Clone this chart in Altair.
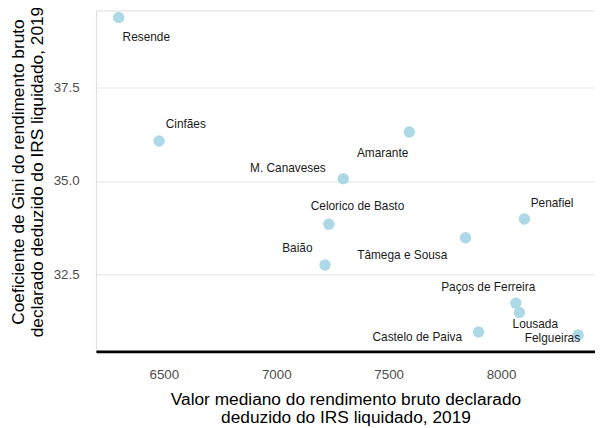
import altair as alt
import pandas as pd

# ---- data ----
names = [
    "Resende", "Cinfães", "Amarante", "M. Canaveses", "Celorico de Basto",
    "Baião", "Tâmega e Sousa", "Penafiel", "Paços de Ferreira", "Lousada",
    "Castelo de Paiva", "Felgueiras",
]
median_income = [6299, 6479, 7592, 7298, 7234, 7217, 7842, 8104, 8066, 8082, 7900, 8343]
gini = [39.37, 36.07, 36.31, 35.06, 33.84, 32.75, 33.48, 33.98, 31.73, 31.48, 30.96, 30.88]

x_ticks = [6500, 7000, 7500, 8000]
y_ticks = [32.5, 35.0, 37.5]

x_title = ["Valor mediano do rendimento bruto declarado", "deduzido do IRS liquidado, 2019"]
y_title = ["Coeficiente de Gini do rendimento bruto", "declarado deduzido do IRS liquidado, 2019"]

# label placement (pixel offsets from each point, style only)
label_offsets = {
    "Resende": (28, 20),
    "Cinfães": (27, -17),
    "Amarante": (-27, 21),
    "M. Canaveses": (-56, -11),
    "Celorico de Basto": (29, -18),
    "Baião": (-28, -17),
    "Tâmega e Sousa": (-64, 18),
    "Penafiel": (28, -16),
    "Paços de Ferreira": (-28, -16),
    "Lousada": (16, 12),
    "Castelo de Paiva": (-62, 5),
    "Felgueiras": (-26, 3),
}

df = pd.DataFrame({"nome": names, "mediana": median_income, "gini": gini})

FONT = "Liberation Sans"

x_scale = alt.Scale(domain=[6198, 8418], nice=False, zero=False)
y_scale = alt.Scale(domain=[30.44, 39.56], nice=False, zero=False)

x_enc = alt.X(
    "mediana:Q",
    scale=x_scale,
    axis=alt.Axis(
        title=x_title,
        values=x_ticks,
        format="d",
        grid=False,
        ticks=False,
        tickSize=0,
        domain=True,
        domainColor="black",
        domainWidth=2.6,
        labelPadding=16,
        labelFontSize=13.5,
        labelColor="#4d4d4d",
        labelFont=FONT,
        titleFont=FONT,
        titleFontSize=17.5,
        titleFontWeight="normal",
        titleColor="black",
        titleLineHeight=18,
        titleBaseline="alphabetic",
        titleAlign="center",
        titleX=252.5,
        titleY=54,
    ),
)

y_enc = alt.Y(
    "gini:Q",
    scale=y_scale,
    axis=alt.Axis(
        title=y_title,
        values=y_ticks,
        format=".1f",
        grid=True,
        gridColor="#e3e3e3",
        gridWidth=1.1,
        ticks=False,
        tickSize=0,
        domain=False,
        labelPadding=17,
        labelFontSize=13.5,
        labelColor="#4d4d4d",
        labelFont=FONT,
        titleFont=FONT,
        titleFontSize=17.5,
        titleFontWeight="normal",
        titleColor="black",
        titleLineHeight=19,
        titleAngle=270,
        titleBaseline="alphabetic",
        titleAlign="center",
        titleX=-73,
        titleY=163,
    ),
)

base = alt.Chart(df)

points = base.mark_circle(size=133, color="#ADD8E6", opacity=1).encode(x=x_enc, y=y_enc)

text_layers = []
for n in names:
    dx, dy = label_offsets[n]
    text_layers.append(
        base.transform_filter(alt.datum.nome == n)
        .mark_text(
            dx=dx, dy=dy, align="center", baseline="middle",
            font=FONT, fontSize=12, color="#1a1a1a",
        )
        .encode(x=x_enc, y=y_enc, text="nome:N")
    )

chart = (
    alt.layer(points, *text_layers)
    .properties(
        width=505,
        height=345,
        autosize=alt.AutoSizeParams(type="none"),
        padding={"left": 89, "top": 0, "right": 0, "bottom": 74},
    )
    .configure_view(strokeWidth=0, stroke="transparent")
    .configure(background="white")
)

chart.save("out.html", embed_options={"renderer": "svg", "actions": False})
